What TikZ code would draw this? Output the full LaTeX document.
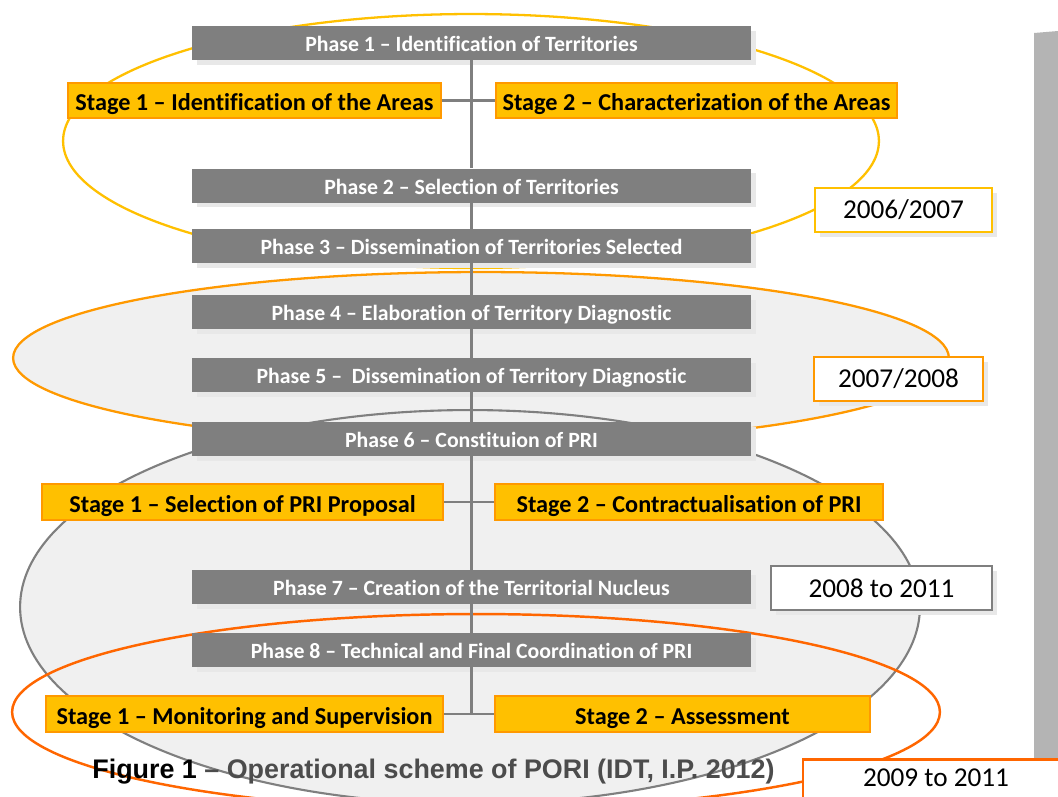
\documentclass[tikz,border=0pt]{standalone}
\usepackage{fontspec}
\setmainfont{Carlito}[Ligatures={TeX,NoCommon}]
\newfontfamily\capfont{Liberation Sans}
\usepackage{xcolor}
\usepackage{tikz}
\usetikzlibrary{positioning,shadows}

\definecolor{phasegray}{HTML}{7F7F7F}
\definecolor{stagegold}{HTML}{FFC000}
\definecolor{stageedge}{HTML}{FF9900}
\definecolor{ovalyellow}{HTML}{FFC000}
\definecolor{ovalorange}{HTML}{FF9900}
\definecolor{ovalred}{HTML}{FF6600}
\definecolor{stripgray}{HTML}{B4B4B4}

\tikzset{
  phasebox/.style={rectangle,fill=phasegray,text=white,font=\fontsize{12.4}{14}\selectfont\bfseries,
    minimum width=11.18cm,minimum height=0.68cm,inner sep=0pt,text height=0.38cm,text depth=0.04cm,
    drop shadow={shadow xshift=0.1cm,shadow yshift=-0.09cm,fill=black!9,opacity=1}},
  stagebox/.style={rectangle,draw=stageedge,line width=1.3pt,fill=stagegold,
    font=\fontsize{13.8}{15}\selectfont\bfseries,minimum height=0.7cm,inner sep=0pt,
    text height=0.45cm,text depth=0.04cm},
  yearbox/.style={rectangle,fill=white,line width=1.6pt,font=\fontsize{15.5}{17}\selectfont,
    minimum height=0.88cm,inner sep=0pt,
    drop shadow={shadow xshift=0.1cm,shadow yshift=-0.09cm,fill=black!9,opacity=1}},
  link/.style={draw=phasegray,line width=1.2pt}
}

\begin{document}
\begin{tikzpicture}[x=0.02cm,y=-0.02cm]
    \useasboundingbox (0,0) rectangle (1058,796);
    \clip (0,0) rectangle (1058,796);
    \fill[white] (0,0) rectangle (1058,796);

    % ovals behind the scheme
    \fill[black!6] (470,607) ellipse [x radius=9cm,y radius=3.94cm];
    \fill[black!6] (481,358) ellipse [x radius=9.36cm,y radius=1.72cm];
    \draw[ovalyellow,line width=1.3pt] (471,141) ellipse [x radius=8.16cm,y radius=2.54cm];
    \draw[ovalorange,line width=1.3pt] (481,358) ellipse [x radius=9.36cm,y radius=1.72cm];
    \draw[phasegray,line width=1.2pt] (470,607) ellipse [x radius=9cm,y radius=3.94cm];
    \draw[ovalred,line width=1.4pt] (476,712) ellipse [x radius=9.28cm,y radius=1.96cm];

    % strip on the right
    \fill[stripgray] (1034,33) -- (1058,31) -- (1058,796) -- (1034,796) -- cycle;

    % phases
    \node[phasebox] (p1) at (471.5,43) {Phase 1 -- Identification of Territories};
    \node[phasebox] (p2) at (471.5,185.5) {Phase 2 -- Selection of Territories};
    \node[phasebox] (p3) at (471.5,246) {Phase 3 -- Dissemination of Territories Selected};
    \node[phasebox] (p4) at (471.5,312) {Phase 4 -- Elaboration of Territory Diagnostic};
    \node[phasebox] (p5) at (471.5,375) {Phase 5 --\ \ Dissemination of Territory Diagnostic};
    \node[phasebox] (p6) at (471.5,439) {Phase 6 -- Constituion of PRI};
    \node[phasebox] (p7) at (471.5,587) {Phase 7 -- Creation of the Territorial Nucleus};
    \node[phasebox] (p8) at (471.5,650) {Phase 8 -- Technical and Final Coordination of PRI};

    % stages
    \node[stagebox,minimum width=7.46cm] (s1) at (254.5,100.5) {Stage 1 -- Identification of the Areas};
    \node[stagebox,minimum width=8.02cm] (s2) at (696.5,100.5) {Stage 2 -- Characterization of the Areas};
    \node[stagebox,minimum width=8.02cm,minimum height=0.72cm] (s3) at (242.5,502) {Stage 1 -- Selection of PRI Proposal};
    \node[stagebox,minimum width=7.76cm,minimum height=0.72cm] (s4) at (689,502) {Stage 2 -- Contractualisation of PRI};
    \node[stagebox,minimum width=7.94cm,minimum height=0.72cm] (s5) at (244.5,714) {Stage 1 -- Monitoring and Supervision};
    \node[stagebox,minimum width=7.5cm,minimum height=0.72cm] (s6) at (682.5,714) {Stage 2 -- Assessment};

    % connectors
    \coordinate (j3) at (p1.south |- s5.east);
    \draw[link] (p1.south) -- (p2.north);
    \draw[link] (p2.south) -- (p3.north);
    \draw[link] (p3.south) -- (p4.north);
    \draw[link] (p4.south) -- (p5.north);
    \draw[link] (p5.south) -- (p6.north);
    \draw[link] (p6.south) -- (p7.north);
    \draw[link] (p7.south) -- (p8.north);
    \draw[link] (p8.south) -- (j3);
    \draw[link] (s1.east) -- (s2.west);
    \draw[link] (s3.east) -- (s4.west);
    \draw[link] (s5.east) -- (s6.west);

    % years
    \node[yearbox,draw=ovalyellow,minimum width=3.54cm] (y1) at (903.5,210) {2006/2007};
    \node[yearbox,draw=ovalorange,minimum width=3.38cm] (y2) at (898.5,379) {2007/2008};
    \node[yearbox,draw=phasegray,minimum width=4.42cm] (y3) at (881.5,588) {2008 to 2011};
    \node[yearbox,draw=ovalred,minimum width=5.32cm,minimum height=0pt,text height=0.54cm,text depth=0.6cm,
      anchor=north] (y4) at (936,758) {2009 to 2011};

    % caption
    \node[anchor=base west,inner sep=0pt,font=\capfont\fontsize{15.3}{17}\selectfont\bfseries] (cap) at (92,778)
      {Figure 1 \textcolor{black!70}{– Operational scheme of PORI (IDT, I.P. 2012)}};
\end{tikzpicture}
\end{document}
